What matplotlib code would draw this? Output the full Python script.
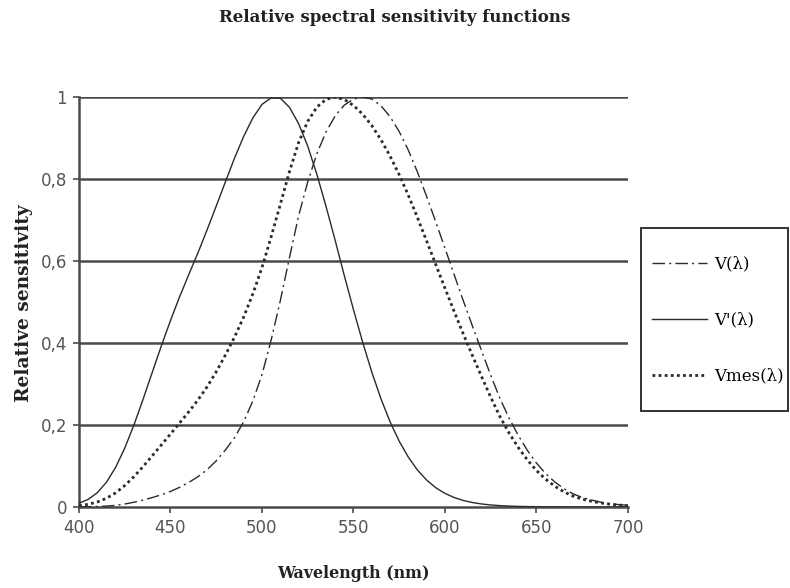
import matplotlib
matplotlib.use("Agg")
import matplotlib.pyplot as plt
from matplotlib.patches import Rectangle

wavelength = list(range(400, 705, 5))

# Photopic V(lambda)
v_photopic = [0.000396, 0.00064, 0.00121, 0.00218, 0.0040, 0.0073, 0.0116, 0.01684, 0.023, 0.0298,
              0.038, 0.048, 0.060, 0.0739, 0.09098, 0.1126, 0.13902, 0.1693, 0.20802, 0.2586,
              0.323, 0.4073, 0.503, 0.6082, 0.71, 0.7932, 0.862, 0.91485, 0.954, 0.9803,
              0.99495, 1.0, 0.995, 0.9786, 0.952, 0.9154, 0.87, 0.8163, 0.757, 0.6949,
              0.631, 0.5668, 0.503, 0.4412, 0.381, 0.321, 0.265, 0.217, 0.175, 0.1382,
              0.107, 0.0816, 0.061, 0.04458, 0.032, 0.0232, 0.017, 0.01192, 0.00821, 0.005723,
              0.004102]

# Scotopic V'(lambda)
v_scotopic = [0.00929, 0.01852, 0.03484, 0.0604, 0.0966, 0.1436, 0.1998, 0.2625, 0.3281, 0.3931,
              0.455, 0.513, 0.567, 0.62, 0.676, 0.734, 0.793, 0.851, 0.904, 0.949,
              0.982, 0.998, 0.997, 0.975, 0.935, 0.88, 0.811, 0.733, 0.65, 0.564,
              0.481, 0.402, 0.3288, 0.2639, 0.2076, 0.1602, 0.1212, 0.0899, 0.0655, 0.0469,
              0.03315, 0.02312, 0.01593, 0.01088, 0.00737, 0.00497, 0.003335, 0.002235, 0.001497, 0.001005,
              0.000677, 0.000459, 0.000313, 0.000215, 0.000148, 0.000103, 0.0000715, 0.0000502, 0.0000353, 0.0000251,
              0.0000178]

# Mesopic Vmes(lambda)
v_mesopic = [0.0033, 0.0065, 0.0122, 0.0213, 0.0344, 0.0523, 0.0740, 0.0985, 0.1248, 0.1514,
             0.178, 0.2051, 0.2324, 0.2610, 0.2932, 0.3298, 0.3707, 0.4145, 0.4636, 0.5200,
             0.5840, 0.6590, 0.7380, 0.8180, 0.889, 0.9407, 0.9755, 0.9942, 1.0, 0.9939,
             0.9793, 0.9581, 0.9303, 0.8958, 0.8557, 0.8101, 0.7599, 0.7053, 0.6483, 0.5909,
             0.5335, 0.4771, 0.4219, 0.3691, 0.3180, 0.2676, 0.2206, 0.1805, 0.1454, 0.1148,
             0.0889, 0.0677, 0.0506, 0.0369, 0.0265, 0.0192, 0.0141, 0.0099, 0.0068, 0.0047,
             0.0034]

series_labels = ["V(λ)", "V'(λ)", "Vmes(λ)"]
x_ticks = [400, 450, 500, 550, 600, 650, 700]
y_ticks = [0, 0.2, 0.4, 0.6, 0.8, 1.0]
y_tick_labels = ["0", "0,2", "0,4", "0,6", "0,8", "1"]

W, H = 790, 588
fig = plt.figure(figsize=(W / 100, H / 100), dpi=100)
ax = fig.add_axes([79 / W, 1 - 507 / H, (628 - 79) / W, (507 - 97) / H])

serif = ["DejaVu Serif"]
lc = "#2a2a2a"

for y in y_ticks[1:]:
    ax.axhline(y, color="#4a4a4a", lw=1.8, zorder=1)

l1, = ax.plot(wavelength, v_photopic, color=lc, lw=1.0, dashes=[9, 3, 1.5, 3], label=series_labels[0], zorder=3)
l2, = ax.plot(wavelength, v_scotopic, color=lc, lw=1.0, label=series_labels[1], zorder=3)
l3, = ax.plot(wavelength, v_mesopic, color=lc, lw=2.0, dashes=[1, 1.2], label=series_labels[2], zorder=3)

ax.set_xlim(400, 700)
ax.set_ylim(0, 1)
ax.set_xticks(x_ticks)
ax.set_yticks(y_ticks)
ax.set_yticklabels(y_tick_labels)
for s in ["top", "right"]:
    ax.spines[s].set_visible(False)
for s in ["left", "bottom"]:
    ax.spines[s].set_color("#4a4a4a")
    ax.spines[s].set_linewidth(1.8)
ax.tick_params(axis="both", colors="#4a4a4a", labelcolor="#555555", labelsize=12, length=4.5, width=1.2)
ax.tick_params(axis="x", pad=4)
ax.tick_params(axis="y", pad=4)

title = fig.text(0.5, 1 - 17 / H, "Relative spectral sensitivity functions", family=serif,
                 fontweight="bold", fontsize=11, ha="center", va="center", color="#222222")
xlab = fig.text((79 + 628) / 2 / W, 1 - 574 / H, "Wavelength (nm)", family=serif,
                fontweight="bold", fontsize=11, ha="center", va="center", color="#222222")
ylab = fig.text(24 / W, 1 - 303 / H, "Relative sensitivity", family=serif, rotation=90,
                fontweight="bold", fontsize=11, ha="center", va="center", color="#222222")

# fit text sizes to reference extents
fig.canvas.draw()
r = fig.canvas.get_renderer()
for t, target, horiz in [(title, 350, True), (xlab, 152, True), (ylab, 198, False)]:
    bb = t.get_window_extent(r)
    cur = bb.width if horiz else bb.height
    t.set_fontsize(t.get_fontsize() * target / cur)

leg = fig.legend(handles=[l1, l2, l3], loc="center left", bbox_to_anchor=(652 / W, 1 - 320 / H),
                 prop={"family": serif, "size": 12}, handlelength=3.3, labelspacing=2.35,
                 frameon=False, borderpad=0, borderaxespad=0, handletextpad=0.45)
fig.add_artist(Rectangle((641 / W, 1 - 411 / H), (788 - 641) / W, (411 - 228) / H,
                         transform=fig.transFigure, fill=False, edgecolor="#333333", lw=1.4))

fig.savefig("out.png", dpi=100)
